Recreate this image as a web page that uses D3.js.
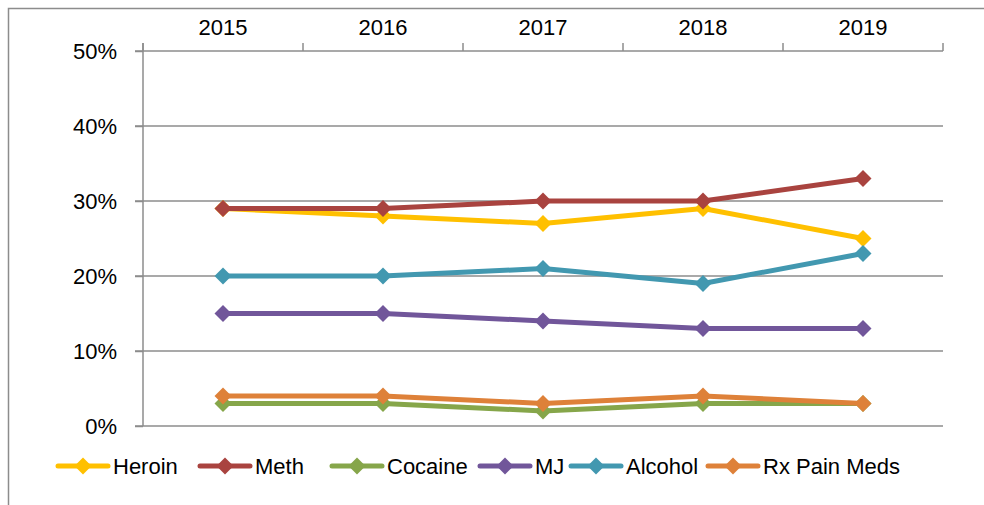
<!DOCTYPE html>
<html><head><meta charset="utf-8">
<script src="https://cdn.jsdelivr.net/npm/d3@7"></script>
<style>body{margin:0;background:#fff}svg{display:block}text{font-family:"Liberation Sans",Arial,sans-serif;fill:#000}</style>
</head><body>
<svg id="c" width="984" height="505"></svg>
<script>
const years = ["2015","2016","2017","2018","2019"];
const seriesNames = ["Heroin","Meth","Cocaine","MJ","Alcohol","Rx Pain Meds"];
const seriesColors = ["#FFC000","#A9433F","#86A64A","#71569A","#4298B0","#DE8139"];
const heroin = [29,28,27,29,25];
const meth = [29,29,30,30,33];
const cocaine = [3,3,2,3,3];
const mj = [15,15,14,13,13];
const alcohol = [20,20,21,19,23];
const rxPainMeds = [4,4,3,4,3];
const yTicks = [0,10,20,30,40,50];
const seriesValues = [heroin, meth, cocaine, mj, alcohol, rxPainMeds];

const svg = d3.select("#c");
svg.append("rect").attr("x",8.5).attr("y",8.5).attr("width",1000).attr("height",600)
  .attr("fill","none").attr("stroke","#8c8c8c").attr("stroke-width",1.5);

const L=143, R=943, T=51, B=426;
const x = d3.scaleBand().domain(years).range([L,R]);
const y = d3.scaleLinear().domain([0,50]).range([B,T]);

svg.append("g").selectAll("line").data(yTicks.filter(d=>d>0)).join("line")
  .attr("x1",L-8).attr("x2",R).attr("y1",d=>y(d)).attr("y2",d=>y(d))
  .attr("stroke","#8c8c8c").attr("stroke-width",1.5);
const ya = svg.append("g").attr("transform",`translate(${L},0)`)
  .call(d3.axisLeft(y).tickValues(yTicks).tickFormat(d=>d+"%").tickSize(8).tickPadding(18));
ya.select(".domain").attr("stroke","#8c8c8c").attr("stroke-width",1.5).attr("d",`M0,${T-8}V${B}`);
ya.selectAll(".tick line").attr("stroke","#8c8c8c").attr("stroke-width",1.5);
ya.selectAll("text").style("font-size","22px").attr("font-family","Liberation Sans, Arial, sans-serif").attr("fill","#000");
svg.append("line").attr("x1",L-8).attr("x2",R).attr("y1",B).attr("y2",B).attr("stroke","#8c8c8c").attr("stroke-width",1.5);
const boundaries = years.map(d=>x(d)).concat([R]);
svg.append("g").selectAll("line").data(boundaries).join("line")
  .attr("x1",d=>d).attr("x2",d=>d).attr("y1",T-8).attr("y2",T)
  .attr("stroke","#8c8c8c").attr("stroke-width",1.5);
svg.append("g").selectAll("text").data(years).join("text")
  .attr("x",d=>x(d)+x.bandwidth()/2).attr("y",35).attr("text-anchor","middle")
  .style("font-size","22px").text(d=>d);

const cx = d=>x(d)+x.bandwidth()/2;
const line = d3.line().x((v,i)=>cx(years[i])).y(v=>y(v));
const diamond = (s)=>`M0,${-s}L${s},0L0,${s}L${-s},0Z`;

seriesValues.forEach((vals,k)=>{
  const g = svg.append("g");
  g.append("path").attr("d",line(vals)).attr("fill","none").attr("stroke",seriesColors[k])
    .attr("stroke-width",5).attr("stroke-linejoin","round");
  g.selectAll("path.m").data(vals).join("path").attr("class","m")
    .attr("transform",(v,i)=>`translate(${cx(years[i])},${y(v)})`)
    .attr("d",diamond(8.5)).attr("fill",seriesColors[k]);
});

const legendX = [58,200,332,480,571,708];
const lg = svg.append("g");
seriesNames.forEach((n,k)=>{
  const x0 = legendX[k], yy = 466;
  lg.append("line").attr("x1",x0).attr("x2",x0+50).attr("y1",yy).attr("y2",yy)
    .attr("stroke",seriesColors[k]).attr("stroke-width",5).attr("stroke-linecap","round");
  lg.append("path").attr("transform",`translate(${x0+25},${yy})`).attr("d",diamond(8.5)).attr("fill",seriesColors[k]);
  lg.append("text").attr("x",x0+55).attr("y",yy+8).style("font-size","22px").text(n);
});
</script>
</body></html>
